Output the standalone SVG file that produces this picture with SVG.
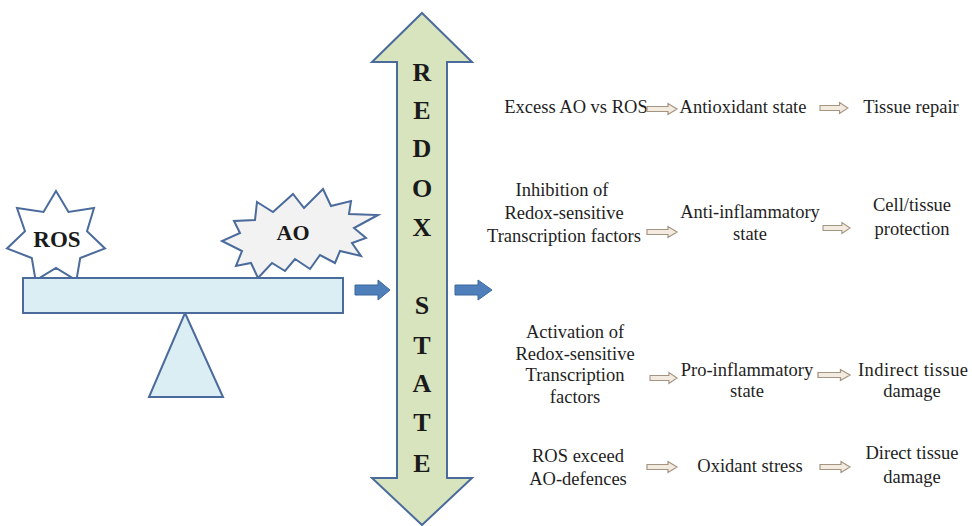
<svg xmlns="http://www.w3.org/2000/svg" xmlns:xlink="http://www.w3.org/1999/xlink" width="972" height="526" viewBox="0 0 972 526">
<defs>
<style>
.shape{stroke:#4a6b9b;stroke-width:2;stroke-linejoin:miter}
.scale{fill:#dbeef4}
.big{font-family:"Liberation Serif","Times New Roman",serif;font-weight:bold;fill:#1a1a1a}
.lbl{font-family:"Liberation Serif","Times New Roman",serif;font-size:18.5px;fill:#1e1e1e;text-anchor:middle}
.ha{fill:#f4ebe0;stroke:#a49482;stroke-width:1.2}
.ba{fill:#4f7fba;stroke:#3b679c;stroke-width:1}
</style>
<path id="hollow" d="M0,-2.5 H21 V-5.5 L30,0 L21,5.5 V2.5 H0 Z"/>
</defs>
<rect width="972" height="526" fill="#ffffff"/>

<g id="ros">
<polygon class="shape" fill="#ffffff" points="56,191 68.5,212 94,208 87,231.1 105,248.5 80.2,258 76.4,280.3 56,268 35.6,280.3 31.8,258 7,248.5 25,231.1 17,208 43.5,212"/>
<text class="big" x="57" y="247" font-size="23" text-anchor="middle">ROS</text>
</g>

<g id="ao">
<polygon class="shape" fill="#f2f2f2" points="257,202 273,212 293,194 304,208 323,189 331,206 351,201 349,214 378,215 354,228 366,238 352,243 361,256 340,251 335,263 320,255 310,269 295,259 285,271 272,263 258,278 251,263 236,266 242,251 222,241 240,233 234,221 255,220"/>
<text class="big" x="293" y="240" font-size="22" text-anchor="middle">AO</text>
</g>

<g id="fulcrum">
<polygon class="shape scale" points="185,313 223,397 149,397"/>
</g>
<g id="beam">
<rect class="shape scale" x="23" y="278" width="320" height="35"/>
</g>

<g id="redox-state">
<polygon class="shape" fill="#d7e4bd" points="422,13 472,62 447,62 447,478 472,478 422,525 372,478 397,478 397,62 372,62"/>
<g class="big" font-size="26" text-anchor="middle">
<text x="422" y="81">R</text>
<text x="422" y="119">E</text>
<text x="422" y="157">D</text>
<text x="422" y="197">O</text>
<text x="422" y="236">X</text>
<text x="422" y="314">S</text>
<text x="422" y="354">T</text>
<text x="422" y="392">A</text>
<text x="422" y="431">T</text>
<text x="422" y="472">E</text>
</g>
</g>

<g id="row1">
<text class="lbl" x="576" y="113">Excess AO vs ROS</text>
<text class="lbl" x="743" y="113">Antioxidant state</text>
<text class="lbl" x="911" y="113">Tissue repair</text>
</g>
<g id="row2">
<text class="lbl" x="562" y="196">Inhibition of</text>
<text class="lbl" x="564" y="219">Redox-sensitive</text>
<text class="lbl" x="564" y="242">Transcription factors</text>
<text class="lbl" x="750" y="218">Anti-inflammatory</text>
<text class="lbl" x="750" y="240">state</text>
<text class="lbl" x="912" y="211">Cell/tissue</text>
<text class="lbl" x="912" y="235">protection</text>
</g>
<g id="row3">
<text class="lbl" x="575" y="338">Activation of</text>
<text class="lbl" x="575" y="360">Redox-sensitive</text>
<text class="lbl" x="575" y="381">Transcription</text>
<text class="lbl" x="575" y="403">factors</text>
<text class="lbl" x="747" y="376">Pro-inflammatory</text>
<text class="lbl" x="747" y="397">state</text>
<text class="lbl" x="858" y="376" style="text-anchor:start" textLength="110" lengthAdjust="spacing">Indirect tissue</text>
<text class="lbl" x="912" y="397">damage</text>
</g>
<g id="row4">
<text class="lbl" x="578" y="462">ROS exceed</text>
<text class="lbl" x="578" y="485">AO-defences</text>
<text class="lbl" x="750" y="472">Oxidant stress</text>
<text class="lbl" x="912" y="459">Direct tissue</text>
<text class="lbl" x="912" y="483">damage</text>
</g>

<g id="connectors">
<path class="ba" d="M355,285 H378 V280 L390,290 L378,300 V295 H355 Z"/>
<path class="ba" d="M455,285 H478 V280 L492,290 L478,300 V295 H455 Z"/>
<use xlink:href="#hollow" class="ha" transform="translate(647,109)"/>
<use xlink:href="#hollow" class="ha" transform="translate(820,108) scale(0.93,1)"/>
<use xlink:href="#hollow" class="ha" transform="translate(647,232)"/>
<use xlink:href="#hollow" class="ha" transform="translate(823,228) scale(0.9,1)"/>
<use xlink:href="#hollow" class="ha" transform="translate(650,378) scale(0.9,1)"/>
<use xlink:href="#hollow" class="ha" transform="translate(818,375) scale(1.07,1)"/>
<use xlink:href="#hollow" class="ha" transform="translate(647,467)"/>
<use xlink:href="#hollow" class="ha" transform="translate(820,467)"/>
</g>
</svg>
